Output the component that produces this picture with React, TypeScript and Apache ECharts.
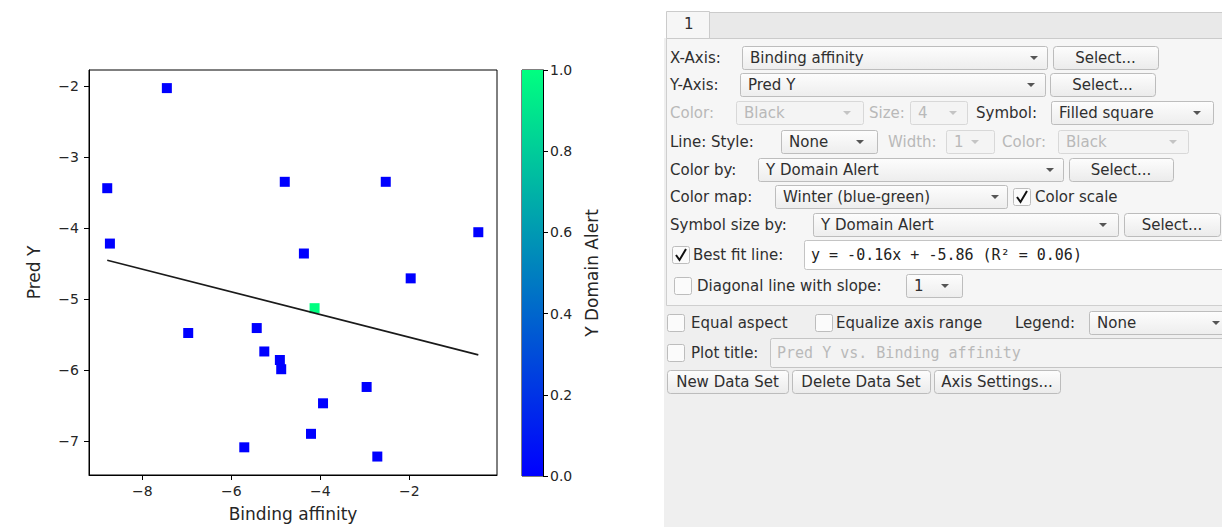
import React, { useEffect, useRef } from "react";
import * as echarts from "echarts";

// ---- data ----
const bindingAffinity = [-7.45, -8.79, -8.73, -4.80, -2.53, -0.45, -4.37, -1.97, -4.13, -6.97, -5.43, -5.26, -4.91, -4.88, -2.96, -3.94, -4.21, -5.71, -2.72];
const predY = [-2.03, -3.44, -4.22, -3.35, -3.35, -4.06, -4.36, -4.71, -5.13, -5.48, -5.41, -5.74, -5.86, -5.99, -6.24, -6.47, -6.90, -7.09, -7.22];
const yDomainAlert = [0, 0, 0, 0, 0, 0, 0, 0, 1, 0, 0, 0, 0, 0, 0, 0, 0, 0, 0];
const fitSlope = -0.16;
const fitIntercept = -5.86;
const fitR2 = 0.06;
const xTicks = [-8, -6, -4, -2];
const yTicks = [-7, -6, -5, -4, -3, -2];
const winterColors = ["#0000ff", "#00ff80"];

const FONT = '"DejaVu Sans"';
const MONO = '"DejaVu Sans Mono"';
const TXT = "#2f2f2f";
const DIS = "#b9b9b9";

const fmtMinus = (v: number) => (v < 0 ? "\u2212" + Math.abs(v) : String(v));

function grad(a: string, b: string) {
  return new echarts.graphic.LinearGradient(0, 0, 0, 1, [
    { offset: 0, color: a },
    { offset: 1, color: b },
  ]);
}

function label(x: number, y: number, text: string, color = TXT, font = FONT, size = 15) {
  return {
    type: "text",
    x,
    y,
    silent: true,
    style: { text, fontSize: size, fontFamily: font, fill: color, verticalAlign: "middle", align: "left" },
  };
}

function arrow(x: number, y: number, color: string) {
  return {
    type: "polygon",
    silent: true,
    shape: { points: [[x - 4, y - 2], [x + 4, y - 2], [x, y + 2]] },
    style: { fill: color },
  };
}

function combo(x1: number, x2: number, y: number, text: string, arrowX: number, disabled = false) {
  return [
    {
      type: "rect",
      silent: true,
      shape: { x: x1 + 0.5, y: y - 11.5, width: x2 - x1, height: 23, r: 2 },
      style: { fill: disabled ? "#f4f4f4" : grad("#fdfdfd", "#ededed"), stroke: disabled ? "#d8d8d8" : "#bdbdbd", lineWidth: 1 },
    },
    label(x1 + 8, y, text, disabled ? DIS : TXT),
    arrow(arrowX, y, disabled ? "#c4c4c4" : "#555"),
  ];
}

function button(x1: number, x2: number, y: number, text: string) {
  return [
    {
      type: "rect",
      silent: true,
      shape: { x: x1 + 0.5, y: y - 11.5, width: x2 - x1, height: 23, r: 3 },
      style: { fill: grad("#fdfdfd", "#ebebeb"), stroke: "#bcbcbc", lineWidth: 1 },
    },
    {
      type: "text",
      silent: true,
      x: (x1 + x2) / 2,
      y,
      style: { text, fontSize: 15, fontFamily: FONT, fill: TXT, verticalAlign: "middle", align: "center" },
    },
  ];
}

function checkbox(x: number, y: number, checked: boolean) {
  const els: any[] = [
    {
      type: "rect",
      silent: true,
      shape: { x: x + 0.5, y: y - 8.5, width: 17, height: 17, r: 2 },
      style: { fill: "#fbfbfb", stroke: "#bdbdbd", lineWidth: 1 },
    },
  ];
  if (checked) {
    els.push({
      type: "polyline",
      silent: true,
      shape: { points: [[x + 4, y], [x + 7.5, y + 5], [x + 14, y - 6]] },
      style: { stroke: "#111", lineWidth: 2, fill: null },
    });
  }
  return els;
}

function textField(x1: number, x2: number, y: number, text: string, color: string) {
  return [
    {
      type: "rect",
      silent: true,
      shape: { x: x1 + 0.5, y: y - 14.5, width: x2 - x1, height: 29, r: 2 },
      style: { fill: color === DIS ? "#f3f3f3" : "#ffffff", stroke: "#c4c4c4", lineWidth: 1 },
    },
    label(x1 + 7, y, text, color, MONO, 15),
  ];
}

function buildGui() {
  const g: any[] = [];
  const L = 670;
  // panel backgrounds
  g.push({ type: "rect", silent: true, shape: { x: 664, y: 38, width: 560, height: 492 }, style: { fill: "#efefef" } });
  g.push({ type: "rect", silent: true, shape: { x: 666.5, y: 38.5, width: 560, height: 267 }, style: { fill: "#f6f6f6", stroke: "#cfcfcf", lineWidth: 1 } });
  // tab bar
  g.push({ type: "rect", silent: true, shape: { x: 709.5, y: 12.5, width: 520, height: 26 }, style: { fill: "#e9e9e9", stroke: "#cbcbcb", lineWidth: 1 } });
  g.push({ type: "rect", silent: true, shape: { x: 666.5, y: 11.5, width: 43, height: 27 }, style: { fill: "#f6f6f6", stroke: "#cbcbcb", lineWidth: 1 } });
  g.push(label(684, 24, "1"));

  // row 1
  g.push(label(L, 58, "X-Axis:"));
  g.push(...combo(742, 1047, 58, "Binding affinity", 1034));
  g.push(...button(1053, 1158, 58, "Select..."));
  // row 2
  g.push(label(L, 85, "Y-Axis:"));
  g.push(...combo(740, 1045, 85, "Pred Y", 1031));
  g.push(...button(1050, 1155, 85, "Select..."));
  // row 3
  g.push(label(L, 113, "Color:", DIS));
  g.push(...combo(736, 863, 113, "Black", 847, true));
  g.push(label(869, 113, "Size:", DIS));
  g.push(...combo(910, 967, 113, "4", 953, true));
  g.push(label(976, 113, "Symbol:"));
  g.push(...combo(1051, 1213, 113, "Filled square", 1197));
  // row 4
  g.push(label(L, 142, "Line:"));
  g.push(label(711, 142, "Style:"));
  g.push(...combo(781, 877, 142, "None", 860));
  g.push(label(888, 142, "Width:", DIS));
  g.push(...combo(946, 994, 142, "1", 975, true));
  g.push(label(1002, 142, "Color:", DIS));
  g.push(...combo(1058, 1188, 142, "Black", 1173, true));
  // row 5
  g.push(label(L, 170, "Color by:"));
  g.push(...combo(758, 1063, 170, "Y Domain Alert", 1050));
  g.push(...button(1069, 1173, 170, "Select..."));
  // row 6
  g.push(label(L, 197, "Color map:"));
  g.push(...combo(775, 1007, 197, "Winter (blue-green)", 995));
  g.push(...checkbox(1013, 197, true));
  g.push(label(1035, 197, "Color scale"));
  // row 7
  g.push(label(L, 225, "Symbol size by:"));
  g.push(...combo(813, 1118, 225, "Y Domain Alert", 1103));
  g.push(...button(1124, 1220, 225, "Select..."));
  // row 8
  g.push(...checkbox(672, 255, true));
  g.push(label(693, 255, "Best fit line:"));
  const fitText = "y = " + fitSlope.toFixed(2) + "x + " + fitIntercept.toFixed(2) + " (R\u00b2 = " + fitR2.toFixed(2) + ")";
  g.push(...textField(804, 1232, 255, fitText, "#222"));
  // row 9
  g.push(...checkbox(674, 286, false));
  g.push(label(697, 286, "Diagonal line with slope:"));
  g.push(...combo(906, 962, 286, "1", 945));
  // row 10
  g.push(...checkbox(667, 323, false));
  g.push(label(691, 323, "Equal aspect"));
  g.push(...checkbox(815, 323, false));
  g.push(label(836, 323, "Equalize axis range"));
  g.push(label(1015, 323, "Legend:"));
  g.push(...combo(1089, 1232, 323, "None", 1216));
  // row 11
  g.push(...checkbox(667, 353, false));
  g.push(label(691, 353, "Plot title:"));
  g.push(...textField(770, 1232, 353, "Pred Y vs. Binding affinity", DIS));
  // row 12
  g.push(...button(667, 788, 382, "New Data Set"));
  g.push(...button(792, 930, 382, "Delete Data Set"));
  g.push(...button(934, 1060, 382, "Axis Settings..."));
  return g;
}

export default function App() {
  const ref = useRef<HTMLDivElement>(null);
  useEffect(() => {
    if (!ref.current) return;
    const chart = echarts.init(ref.current, null, { renderer: "svg" });
    const points = bindingAffinity.map((x, i) => [x, predY[i], yDomainAlert[i]]);
    const xMin = Math.min(...bindingAffinity);
    const xMax = Math.max(...bindingAffinity);
    const fitLine = [
      [xMin, fitSlope * xMin + fitIntercept],
      [xMax, fitSlope * xMax + fitIntercept],
    ];
    const axisText = { fontSize: 14, color: "#262626", fontFamily: FONT };
    const nameText = { fontSize: 17, color: "#262626", fontFamily: FONT };
    const blackLine = { lineStyle: { color: "#000", width: 1 } };
    const option: any = {
      animation: false,
      backgroundColor: "#ffffff",
      grid: [
        { left: 89, top: 70, width: 408, height: 406, show: true, borderColor: "#000", borderWidth: 1, backgroundColor: "transparent" },
        { left: 522, top: 70, width: 21, height: 406, show: true, borderColor: "#000", borderWidth: 1, backgroundColor: "transparent" },
      ],
      xAxis: [
        {
          type: "value",
          gridIndex: 0,
          min: -9.2,
          max: -0.03,
          name: "Binding affinity",
          nameLocation: "middle",
          nameGap: 30,
          nameTextStyle: nameText,
          axisLine: { show: true, onZero: false, ...blackLine },
          axisTick: { show: true, length: 5, customValues: xTicks, ...blackLine },
          axisLabel: { ...axisText, customValues: xTicks, formatter: fmtMinus, margin: 9 },
          splitLine: { show: false },
        },
        { type: "category", gridIndex: 1, data: ["cb"], show: false },
      ],
      yAxis: [
        {
          type: "value",
          gridIndex: 0,
          min: -7.48,
          max: -1.775,
          name: "Pred Y",
          nameLocation: "middle",
          nameGap: 47,
          nameRotate: 90,
          nameTextStyle: nameText,
          axisLine: { show: true, onZero: false, ...blackLine },
          axisTick: { show: true, length: 5, customValues: yTicks, ...blackLine },
          axisLabel: { ...axisText, customValues: yTicks, formatter: fmtMinus, margin: 10 },
          splitLine: { show: false },
        },
        {
          type: "value",
          gridIndex: 1,
          position: "right",
          min: 0,
          max: 1,
          interval: 0.2,
          name: "Y Domain Alert",
          nameLocation: "middle",
          nameGap: 40,
          nameRotate: 90,
          nameTextStyle: nameText,
          axisLine: { show: true, ...blackLine },
          axisTick: { show: true, length: 5, ...blackLine },
          axisLabel: { ...axisText, formatter: (v: number) => v.toFixed(1), margin: 7 },
          splitLine: { show: false },
        },
      ],
      visualMap: {
        show: false,
        type: "continuous",
        seriesIndex: 0,
        dimension: 2,
        min: 0,
        max: 1,
        inRange: { color: winterColors },
      },
      series: [
        {
          type: "scatter",
          xAxisIndex: 0,
          yAxisIndex: 0,
          symbol: "rect",
          symbolSize: 10,
          itemStyle: { opacity: 1 },
          data: points,
          z: 2,
        },
        {
          type: "line",
          xAxisIndex: 0,
          yAxisIndex: 0,
          symbol: "none",
          data: fitLine,
          lineStyle: { color: "#1a1a1a", width: 1.6 },
          z: 3,
        },
        {
          type: "bar",
          xAxisIndex: 1,
          yAxisIndex: 1,
          data: [1],
          barWidth: "100%",
          itemStyle: {
            color: new echarts.graphic.LinearGradient(0, 1, 0, 0, [
              { offset: 0, color: winterColors[0] },
              { offset: 1, color: winterColors[1] },
            ]),
          },
        },
      ],
      graphic: buildGui(),
    };
    chart.setOption(option);
    return () => chart.dispose();
  }, []);
  return (
    <div
      ref={ref}
      style={{ position: "absolute", left: 0, top: 0, width: 1222, height: 527, background: "#fff" }}
    />
  );
}
